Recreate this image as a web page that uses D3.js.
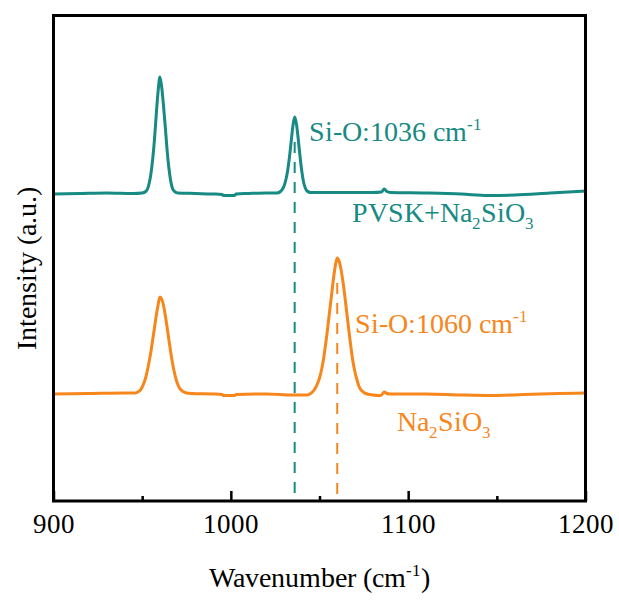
<!DOCTYPE html>
<html><head><meta charset="utf-8">
<script src="https://cdn.jsdelivr.net/npm/d3@7"></script>
<style>
@font-face { font-family: "ChartSerif"; src: local("Liberation Serif"), local("LiberationSerif"), local("LiberationSerif-Regular"), local("Times New Roman"); }
body{margin:0;background:#fff}
#chart text { font-family: "ChartSerif", "Liberation Serif", "Times New Roman", Times, serif; }
</style>
</head><body>
<svg id="chart" width="619" height="601" font-family="Liberation Serif"></svg>
<script>
// ---- data ----
const xTicks = [900, 1000, 1100, 1200];
const xMinorTicks = [950, 1050, 1150];
const seriesNames = ["PVSK+Na2SiO3", "Na2SiO3"];
const seriesColors = ["#178a84", "#f7861c"];
const peakPositions = [1036, 1060];
const peakTops = [384, 243];

// [wavenumber (cm-1), intensity (a.u., offset-stacked)]
const spectrumPVSK = [
  [900,307],[915,307.5],[930,308],[945,307.5],[950,308],[952,309.5],[953,312],[954,318],[955,328],
  [956,343],[957,363],[958,388],[959,410],[960,424],[961,414],[962,396],[963,375],[964,352],
  [965,334],[966,321],[967,313],[968,310],[970,308],[980,307.5],[990,307],[995,306.5],[996,305.5],
  [1002,305.5],[1003,307],[1010,307.5],[1020,308],[1026,308],[1028,309.5],[1029,311.5],[1030,315],
  [1031,321],[1032,330],[1033,343],[1034,359],[1035,375],[1036,384],[1037,377],[1038,362],[1039,345],
  [1040,330],[1041,319],[1042,313],[1043,310],[1045,308.5],[1060,308.5],[1080,308.5],[1085,309],
  [1086.5,312],[1088,309.5],[1090,308.5],[1110,308],[1130,307],[1145,305.5],[1160,306],[1180,308],[1200,310]
];
const spectrumNa2SiO3 = [
  [900,107],[920,107.5],[940,108],[946,108],[948,109.5],[949,111],[950,114],[951,118],[952,123.5],
  [953,131],[954,140],[955,150],[956,162],[957,174],[958,186],[959,196],[960,204],[961,202],[962,196],
  [963,186],[964,174.5],[965,162],[966,150],[967,139],[968,130],[969,122.5],[970,117],[971,113],
  [972,111],[973,109.5],[975,108],[978,107.5],[990,107],[995,106.5],[996,105.5],[1002,105.5],
  [1003,106.5],[1020,107],[1035,106],[1043,106],[1045,107.5],[1046,109],[1047,111],[1048,114],
  [1049,118],[1050,123],[1051,130],[1052,139],[1053,151],[1054,164],[1055,179],[1056,194],[1057,209],
  [1058,224],[1059,236],[1060,243],[1061,240],[1062,233],[1063,222],[1064,209],[1065,194],[1066,179],
  [1067,164],[1068,150],[1069,138],[1070,129],[1071,122],[1072,116],[1073,112],[1074,110],[1076,107.5],
  [1080,106],[1084,105.5],[1085,106],[1086.5,109],[1088,107.5],[1090,107],[1110,107],[1130,106],
  [1148,105.5],[1165,106.5],[1185,107.5],[1200,108]
];

// ---- drawing ----
const svg = d3.select("#chart");
const M = {left: 53.5, right: 585.5, top: 15.5, bottom: 501};

const x = d3.scaleLinear().domain([900, 1200]).range([M.left, M.right]);
const y = d3.scaleLinear().domain([0, 485.5]).range([M.bottom, M.top]);

const line = d3.line().x(d => x(d[0])).y(d => y(d[1])).curve(d3.curveMonotoneX);

// dashed peak markers
[0, 1].forEach(i => {
  svg.append("line")
    .attr("x1", x(peakPositions[i])).attr("x2", x(peakPositions[i]))
    .attr("y1", y(peakTops[i] - 25)).attr("y2", y(0))
    .attr("stroke", seriesColors[i]).attr("stroke-width", 2)
    .attr("stroke-dasharray", "11,9");
});

// spectra
[spectrumPVSK, spectrumNa2SiO3].forEach((s, i) => {
  svg.append("path").datum(s).attr("d", line)
    .attr("fill", "none").attr("stroke", seriesColors[i])
    .attr("stroke-width", 3).attr("stroke-linejoin", "round").attr("stroke-linecap", "round");
});

// x axis: inward ticks
const xAxis = d3.axisBottom(x).tickValues(xTicks).tickSizeInner(-10).tickSizeOuter(0).tickPadding(18)
  .tickFormat(d3.format("d"));
const gx = svg.append("g").attr("transform", `translate(0,${M.bottom})`).call(xAxis);
gx.attr("font-family", "Liberation Serif").attr("font-size", 27);
gx.select(".domain").remove();
gx.selectAll(".tick line").attr("stroke", "#000").attr("stroke-width", 2.5);
gx.selectAll(".tick text").attr("fill", "#000").attr("dy", null).attr("y", 32);
const xMinor = d3.axisBottom(x).tickValues(xMinorTicks).tickSizeInner(-5).tickSizeOuter(0).tickFormat("");
const gm = svg.append("g").attr("transform", `translate(0,${M.bottom})`).call(xMinor);
gm.select(".domain").remove();
gm.selectAll(".tick line").attr("stroke", "#000").attr("stroke-width", 2.5);

// frame
svg.append("rect").attr("x", M.left).attr("y", M.top)
  .attr("width", M.right - M.left).attr("height", M.bottom - M.top)
  .attr("fill", "none").attr("stroke", "#000").attr("stroke-width", 3);

// rich text helper
function richText(xp, yp, parts, color, size, anchor) {
  const t = svg.append("text").attr("x", xp).attr("y", yp)
    .attr("font-size", size).attr("fill", color)
    .attr("text-anchor", anchor || "start");
  let shift = 0;
  parts.forEach(p => {
    const target = p.sup ? -size * 0.4 : p.sub ? size * 0.25 : 0;
    const ts = t.append("tspan").text(p.t).attr("dy", target - shift);
    if (p.sup || p.sub) ts.attr("font-size", Math.round(size * 0.62));
    shift = target;
  });
  return t;
}

// axis titles
richText((M.left + M.right) / 2, 587, [{t: "Wavenumber (cm"}, {t: "-1", sup: true}, {t: ")"}], "#000", 28, "middle");
svg.append("text").attr("transform", "translate(36,268) rotate(-90)")
  .attr("text-anchor", "middle").attr("font-size", 28).attr("fill", "#000")
  .text("Intensity (a.u.)");

// annotations
richText(309, 141, [{t: "Si-O:1036 cm"}, {t: "-1", sup: true}], seriesColors[0], 28);
richText(352, 222, [{t: "PVSK+Na"}, {t: "2", sub: true}, {t: "SiO"}, {t: "3", sub: true}], seriesColors[0], 28);
richText(355, 333, [{t: "Si-O:1060 cm"}, {t: "-1", sup: true}], seriesColors[1], 28);
richText(397, 431, [{t: "Na"}, {t: "2", sub: true}, {t: "SiO"}, {t: "3", sub: true}], seriesColors[1], 28);
</script>
</body></html>
